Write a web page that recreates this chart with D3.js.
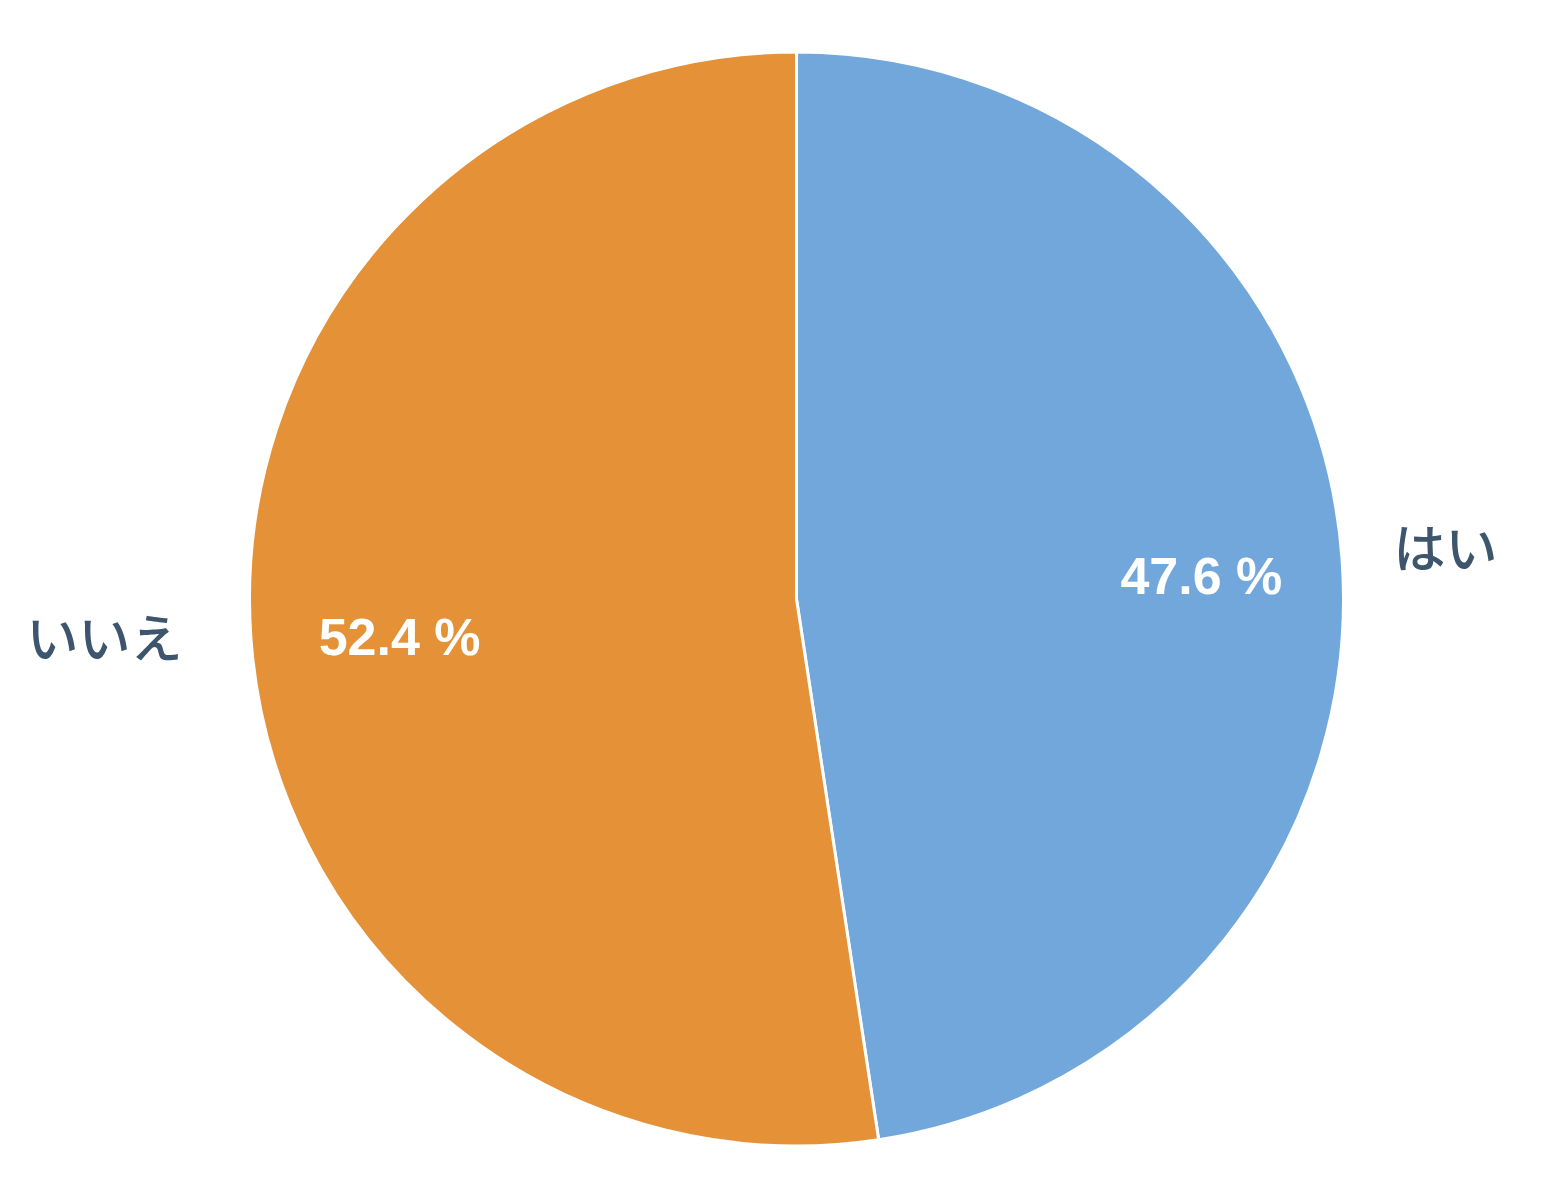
<!DOCTYPE html>
<html>
<head>
<meta charset="utf-8">
<script src="https://cdn.jsdelivr.net/npm/d3@7"></script>
<style>
  html, body { margin: 0; padding: 0; background: #fff; }
  #vis-display { width: 1542px; height: 1202px; }
</style>
</head>
<body>
<div id="vis-display"></div>
<script>
// Yes/No pie chart, clockwise from 12 o'clock.

const categories = ["はい", "いいえ"];
const values     = [47.6, 52.4];
const colors     = ["#72a7db", "#e59138"];

const W = 1542, H = 1202;
const cx = 796.5, cy = 599, R = 547;

const data = categories.map((c, i) => ({ label: c, value: values[i], color: colors[i] }));

const pie = d3.pie().sort(null).value(d => d.value);
const arcs = pie(data);

const arc = d3.arc().innerRadius(0).outerRadius(R);
const inner = d3.arc().innerRadius(R * 0.735).outerRadius(R * 0.735);

const svg = d3.select("#vis-display").append("svg")
  .attr("width", W)
  .attr("height", H);

const g = svg.append("g").attr("transform", `translate(${cx},${cy})`);

// Slices
g.selectAll("path")
  .data(arcs)
  .join("path")
    .attr("d", arc)
    .attr("fill", d => d.data.color)
    .attr("stroke", "#fff")
    .attr("stroke-width", 3)
    .attr("stroke-linejoin", "round");

// Percent labels inside
g.selectAll("text.pct")
  .data(arcs)
  .join("text")
    .attr("class", "pct")
    .attr("x", d => inner.centroid(d)[0] + 4)
    .attr("y", d => inner.centroid(d)[1])
    .attr("dy", "0.49em")
    .attr("text-anchor", "middle")
    .style("font-family", "'Liberation Sans', Arial, sans-serif")
    .style("font-weight", "bold")
    .style("font-size", "52px")
    .style("fill", "#fff")
    .text(d => d.data.value.toFixed(1) + " %");

// Category labels outside
const labelR = R * 1.1;
g.selectAll("text.cat")
  .data(arcs)
  .join("text")
    .attr("class", "cat")
    .attr("x", d => {
      const a = (d.startAngle + d.endAngle) / 2;
      return labelR * Math.sin(a) + (Math.sin(a) < 0 ? -14 : -3);
    })
    .attr("y", d => {
      const a = (d.startAngle + d.endAngle) / 2;
      return -labelR * Math.cos(a);
    })
    .attr("dy", "0.27em")
    .attr("text-anchor", d => Math.sin((d.startAngle + d.endAngle) / 2) < 0 ? "end" : "start")
    .style("font-family", "'Noto Sans CJK JP', sans-serif")
    .style("font-weight", 500)
    .style("font-size", "52px")
    .style("fill", "#3d566e")
    .text(d => d.data.label);
</script>
</body>
</html>
